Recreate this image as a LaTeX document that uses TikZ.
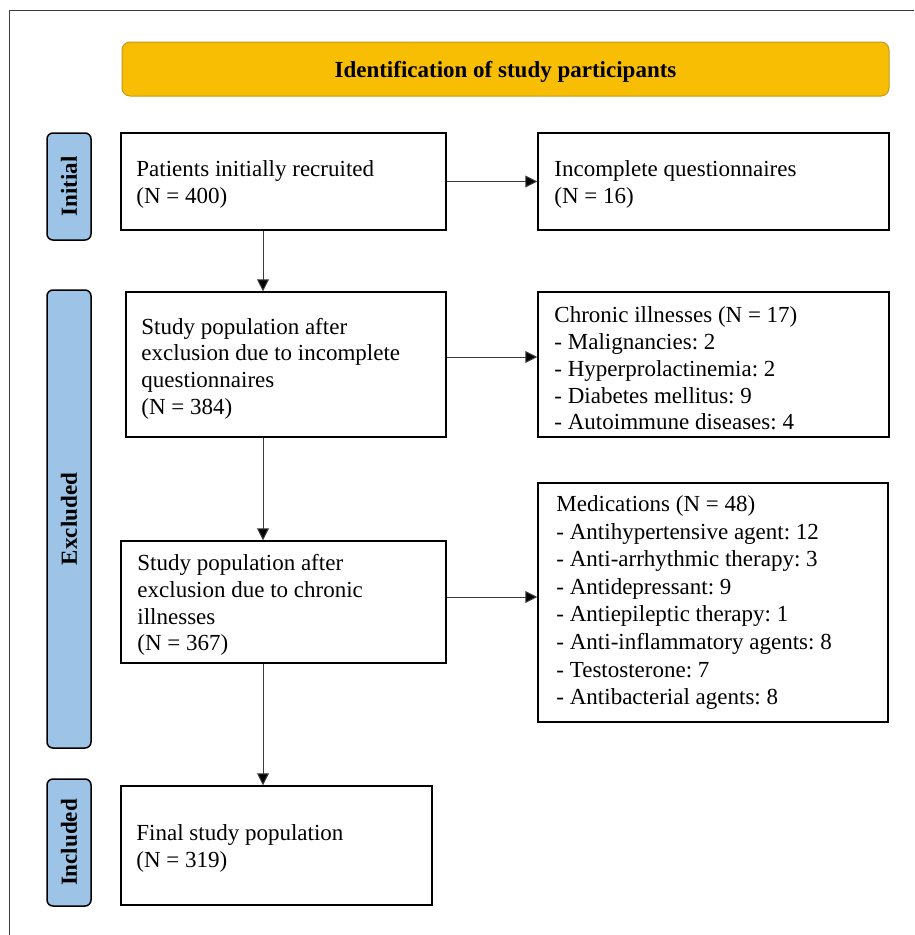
\documentclass[tikz,border=0pt]{standalone}
\usepackage{fontspec}
\setmainfont{Liberation Serif}
\usetikzlibrary{arrows.meta}
\frenchspacing
\definecolor{gold}{RGB}{248,190,4}
\definecolor{goldline}{RGB}{196,154,26}
\definecolor{sideblue}{RGB}{157,195,230}
\definecolor{conn}{RGB}{60,60,60}
\tikzset{
  txt/.style={font=\fontsize{23}{26.7}\selectfont\frenchspacing, align=left, inner sep=0pt, anchor=west},
  flowbox/.style={draw=black, line width=1.5pt, rectangle, inner sep=0pt},
  sidelabel/.style={draw=black, line width=1.5pt, fill=sideblue, rounded corners=6pt, rotate=90,
    font=\fontsize{23}{26}\selectfont\bfseries, minimum height=44pt, inner sep=0pt},
  arr/.style={draw=conn, line width=1pt, -{Triangle[length=12pt,width=12pt,fill=black]}}
}
\begin{document}
\begin{tikzpicture}[x=1pt,y=-1pt]
\useasboundingbox (0,0) rectangle (914,935);
\draw[draw=conn, line width=1pt] (9,935) -- (9,10) -- (914,10);

\node[draw=goldline, line width=1pt, fill=gold, rounded corners=8pt, minimum width=767pt, minimum height=54pt,
  inner sep=0pt] (title) at (505.5,69) {};
\node[font=\fontsize{23}{26}\selectfont\bfseries, inner sep=0pt] (ttext) at ([yshift=-3pt]title.center) {Identification of study participants};

\node[sidelabel, minimum width=107pt] (lInit) at (69,186.5) {Initial};
\node[sidelabel, minimum width=458pt] (lExcl) at (69,519) {Excluded};
\node[sidelabel, minimum width=127pt] (lIncl) at (69,842.5) {Included};

\node[flowbox, minimum width=325pt, minimum height=97pt] (b1) at (283.5,181.5) {};
\node[flowbox, minimum width=320pt, minimum height=145pt] (b2) at (286,364.5) {};
\node[flowbox, minimum width=325pt, minimum height=122pt] (b3) at (283.5,602) {};
\node[flowbox, minimum width=311pt, minimum height=119pt] (b4) at (276.5,845.5) {};
\node[flowbox, minimum width=351pt, minimum height=97pt] (r1) at (713.5,181.5) {};
\node[flowbox, minimum width=351pt, minimum height=145pt] (r2) at (713.5,364.5) {};
\node[flowbox, minimum width=350pt, minimum height=239pt] (r3) at (713,602.5) {};

\node[txt] (t1) at ([xshift=16pt,yshift=-3pt]b1.west) {Patients initially recruited\\(N = 400)};
\node[txt] (t2) at ([xshift=16pt,yshift=-4pt]b2.west) {Study population after\\exclusion due to incomplete\\questionnaires\\(N = 384)};
\node[txt] (t3) at ([xshift=17pt,yshift=-3pt]b3.west) {Study population after\\exclusion due to chronic\\illnesses\\(N = 367)};
\node[txt] (t4) at ([xshift=16pt,yshift=-3pt]b4.west) {Final study population\\(N = 319)};
\node[txt] (u1) at ([xshift=17pt,yshift=-3pt]r1.west) {Incomplete questionnaires\\(N = 16)};
\node[txt] (u2) at ([xshift=17pt,yshift=-4pt]r2.west) {Chronic illnesses (N = 17)\\- Malignancies: 2\\- Hyperprolactinemia: 2\\- Diabetes mellitus: 9\\- Autoimmune diseases: 4};
\node[txt, font=\fontsize{23}{27.6}\selectfont] (u3) at ([xshift=19pt,yshift=0pt]r3.west) {Medications (N = 48)\\- Antihypertensive agent: 12\\- Anti-arrhythmic therapy: 3\\- Antidepressant: 9\\- Antiepileptic therapy: 1\\- Anti-inflammatory agents: 8\\- Testosterone: 7\\- Antibacterial agents: 8};

\coordinate (vx) at (263,0);
\coordinate (h2) at (0,357);
\coordinate (h3) at (0,597);
\draw[arr] (b1.south -| vx) -- (b2.north -| vx);
\draw[arr] (b2.south -| vx) -- (b3.north -| vx);
\draw[arr] (b3.south -| vx) -- (b4.north -| vx);
\draw[arr] (b1.east) -- (r1.west);
\draw[arr] (b2.east |- h2) -- (r2.west |- h2);
\draw[arr] (b3.east |- h3) -- (r3.west |- h3);
\end{tikzpicture}
\end{document}
